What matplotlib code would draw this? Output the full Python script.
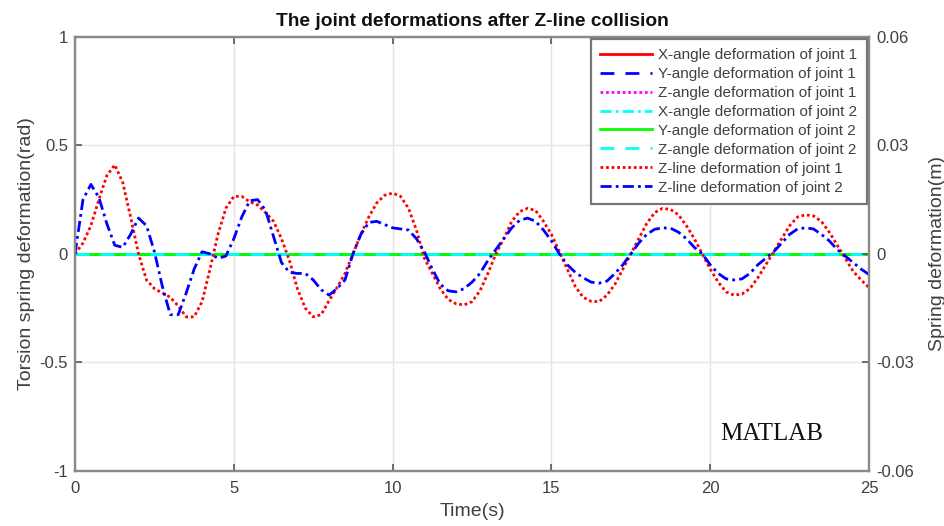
import numpy as np
import matplotlib
matplotlib.use("Agg")
import matplotlib.pyplot as plt

plt.rcParams['font.family'] = ['Liberation Sans', 'DejaVu Sans']

# time samples (s)
time_s = np.arange(0, 25.001, 0.25)

# joint angle deformations (rad) -- all remain at zero after the Z-line impact
x_angle_j1 = np.zeros_like(time_s)
y_angle_j1 = np.zeros_like(time_s)
z_angle_j1 = np.zeros_like(time_s)
x_angle_j2 = np.zeros_like(time_s)
y_angle_j2 = np.zeros_like(time_s)
z_angle_j2 = np.zeros_like(time_s)

# Z-line spring deformation of joint 1 (mm)
z_line_j1_mm = [
    0.0, 3.0, 7.8, 15.0, 21.6, 24.6, 19.8, 10.2, 0.0, -7.2,
    -9.6, -10.8, -12.0, -14.4, -17.4, -17.4, -13.2, -4.2, 5.4, 12.6,
    15.9, 15.9, 14.4, 13.5, 11.4, 9.0, 4.2, -1.8, -9.6, -15.0,
    -17.4, -16.8, -12.9, -9.3, -5.4, 0.0, 5.4, 10.2, 14.1, 16.2,
    16.8, 15.9, 12.6, 6.6, -1.2, -5.4, -9.6, -12.6, -13.8, -14.1,
    -13.2, -10.2, -5.4, 0.0, 4.2, 9.0, 11.7, 12.6, 12.0, 9.0,
    5.4, 0.6, -4.2, -9.0, -12.0, -13.1, -13.2, -11.4, -8.4, -4.2,
    0.0, 4.2, 8.4, 11.4, 12.6, 12.3, 10.8, 7.8, 4.2, 0.0,
    -4.2, -7.8, -10.5, -11.4, -11.1, -9.6, -6.6, -3.0, 0.6, 4.2,
    7.8, 10.2, 10.8, 10.5, 9.0, 6.0, 2.4, -1.2, -4.8, -7.2,
    -9.3,
]

# Z-line spring deformation of joint 2 (mm)
z_line_j2_mm = [
    0.0, 15.0, 19.2, 15.6, 8.4, 2.4, 1.8, 5.4, 9.9, 7.8,
    0.6, -9.0, -16.8, -16.8, -10.8, -4.2, 0.6, 0.0, -1.2, -0.6,
    4.2, 10.2, 14.7, 15.0, 12.0, 4.8, -2.4, -5.1, -5.4, -5.4,
    -7.2, -9.9, -11.4, -9.6, -7.2, 0.0, 5.4, 8.7, 9.0, 8.1,
    7.2, 6.9, 6.6, 4.2, 0.6, -4.2, -8.4, -10.2, -10.5, -9.6,
    -7.8, -5.4, -1.8, 1.2, 4.2, 7.2, 9.3, 9.9, 9.0, 6.6,
    3.6, 0.0, -3.0, -5.1, -6.6, -7.8, -8.1, -7.5, -5.4, -3.0,
    0.0, 3.0, 5.4, 6.8, 7.2, 7.1, 6.0, 4.2, 1.8, 0.0,
    -3.0, -5.4, -6.9, -7.2, -6.9, -5.4, -3.0, -1.2, 0.6, 3.0,
    5.4, 6.9, 7.2, 6.9, 5.4, 3.6, 1.2, -0.6, -2.4, -4.2,
    -5.7,
]

left_ticks = [-1, -0.5, 0, 0.5, 1]
left_labels = ['-1', '-0.5', '0', '0.5', '1']
right_ticks = [-0.06, -0.03, 0, 0.03, 0.06]
right_labels = ['-0.06', '-0.03', '0', '0.03', '0.06']
x_ticks = [0, 5, 10, 15, 20, 25]

fig = plt.figure(figsize=(9.45, 5.26), dpi=100)
ax = fig.add_axes([0.0794, 0.1046, 0.8402, 0.8254])
ax2 = ax.twinx()

lw = 2.0
handles = []
handles += ax.plot(time_s, x_angle_j1, color='#ff0000', ls='-', lw=lw, label='X-angle deformation of joint 1')
handles += ax.plot(time_s, y_angle_j1, color='#0000ff', ls=(0, (5, 4)), lw=lw, label='Y-angle deformation of joint 1')
handles += ax.plot(time_s, z_angle_j1, color='#ff00ff', ls=(0, (1, 1)), lw=lw, label='Z-angle deformation of joint 1')
handles += ax.plot(time_s, x_angle_j2, color='#00ffff', ls=(0, (4, 1.5, 1, 1.5)), lw=lw, label='X-angle deformation of joint 2')
handles += ax.plot(time_s, y_angle_j2, color='#00ff00', ls='-', lw=lw, label='Y-angle deformation of joint 2')
handles += ax.plot(time_s, z_angle_j2, color='#00ffff', ls=(0, (5, 4)), lw=lw, label='Z-angle deformation of joint 2')

z1_m = np.array(z_line_j1_mm) / 1000.0
z2_m = np.array(z_line_j2_mm) / 1000.0
handles += ax2.plot(time_s, z1_m, color='#ff0000', ls=(0, (1, 1)), lw=lw, label='Z-line deformation of joint 1')
handles += ax2.plot(time_s, z2_m, color='#0000ff', ls=(0, (4, 1.5, 1, 1.5)), lw=lw, label='Z-line deformation of joint 2')

ax.set_xlim(0, 25)
ax.set_ylim(-1, 1)
ax2.set_ylim(-0.06, 0.06)
ax.set_xticks(x_ticks)
ax.set_yticks(left_ticks)
ax.set_yticklabels(left_labels)
ax2.set_yticks(right_ticks)
ax2.set_yticklabels(right_labels)

ax.grid(True, color='#e4e4e4', lw=1.0)
ax.set_axisbelow(True)

axis_col = '#8a8a8a'
text_col = '#404040'
for a in (ax, ax2):
    for s in a.spines.values():
        s.set_color(axis_col)
        s.set_linewidth(1.6)
    a.tick_params(direction='in', length=5, width=1.2, colors='#555555',
                  labelcolor=text_col, labelsize=12)
ax.tick_params(top=True)
ax.tick_params(axis='x', pad=7)
ax.tick_params(axis='y', pad=5)
ax2.tick_params(axis='y', pad=5)

ax.set_xlabel('Time(s)', fontsize=14, color=text_col)
ax.xaxis.set_label_coords(0.5, -0.074)
ax.set_ylabel('Torsion spring deformation(rad)', fontsize=14, color=text_col)
ax.yaxis.set_label_coords(-0.05, 0.5)
ax2.set_ylabel('Spring deformation(m)', fontsize=14, color=text_col)
ax2.yaxis.set_label_coords(1.076, 0.5)
ax.set_title('The joint deformations after Z-line collision', fontsize=13.8,
             fontweight='bold', color='#111111', pad=8)

leg = ax2.legend(handles=handles, loc='upper right', fontsize=11, handlelength=3.4,
                 handletextpad=0.4, labelspacing=0.32, borderpad=0.6,
                 fancybox=False, framealpha=1, borderaxespad=0.15)
leg.get_frame().set_edgecolor('#777777')
leg.get_frame().set_linewidth(1.6)
for t in leg.get_texts():
    t.set_color(text_col)

ax.text(21.95, -0.83, 'MATLAB', family='Liberation Serif', fontsize=18,
        ha='center', va='center', color='#111111')

fig.savefig('out.png', dpi=100)
